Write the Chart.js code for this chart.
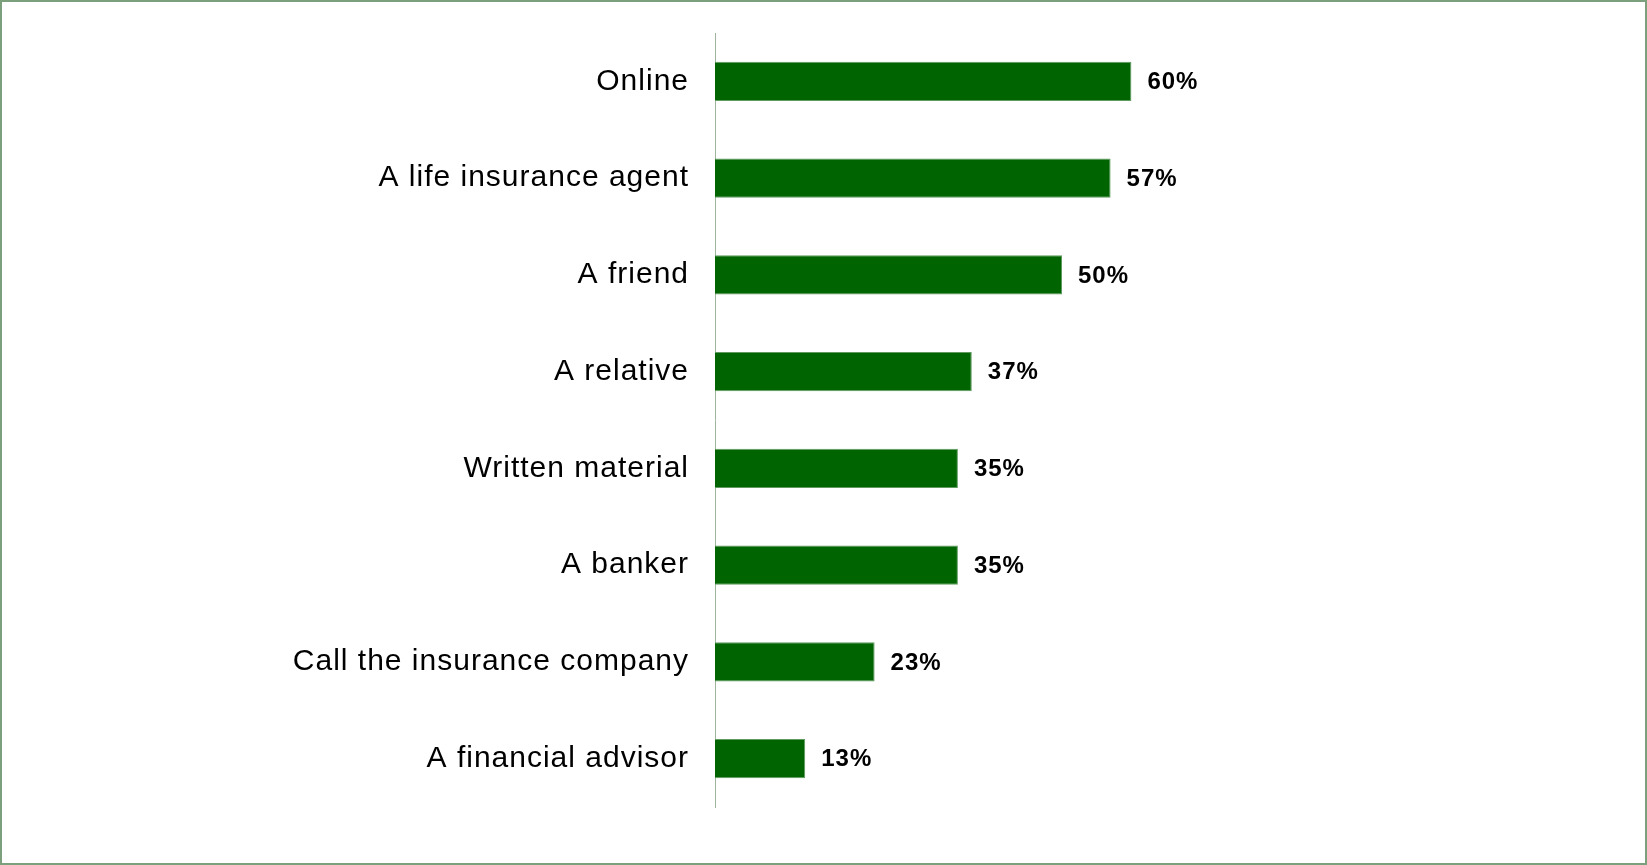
<!DOCTYPE html>
<html>
<head>
<meta charset="utf-8">
<script src="https://cdn.jsdelivr.net/npm/chart.js@4"></script>
<style>
  html, body { margin:0; padding:0; background:#fff; }
  #wrap { position:relative; width:1647px; height:865px; }
  #chart { position:absolute; left:0; top:0; }
  #frame { position:absolute; inset:0; border:2px solid #7ba07b; box-sizing:border-box; pointer-events:none; }
</style>
</head>
<body>
<div id="wrap">
  <canvas id="chart" width="1647" height="865"></canvas>
  <div id="frame"></div>
</div>
<script>
// categories and values
const CATEGORIES = [
  "Online",
  "A life insurance agent",
  "A friend",
  "A relative",
  "Written material",
  "A banker",
  "Call the insurance company",
  "A financial advisor"
];
const VALUES = [60, 57, 50, 37, 35, 35, 23, 13];

const AXIS_X = 715; // left edge of plot area

// the original text is set a little wider than plain Arial
const spacing = {
  id: "spacing",
  beforeUpdate(chart){ chart.ctx.letterSpacing = "1px"; },
  beforeDraw(chart){ chart.ctx.letterSpacing = "1px"; }
};

// simple value labels at the end of each bar
const barLabels = {
  id: "barLabels",
  afterDatasetsDraw(chart){
    const ctx = chart.ctx;
    const meta = chart.getDatasetMeta(0);
    ctx.save();
    ctx.font = "bold 24px 'Liberation Sans', Arial, sans-serif";
    ctx.letterSpacing = "1px";
    ctx.fillStyle = "#000";
    ctx.textBaseline = "middle";
    ctx.textAlign = "left";
    meta.data.forEach((bar, i)=>{
      ctx.fillText(VALUES[i] + "%", bar.x + 16, bar.y + 1);
    });
    ctx.restore();
  }
};

new Chart(document.getElementById("chart"), {
  type: "bar",
  data: {
    labels: CATEGORIES,
    datasets: [{
      data: VALUES,
      backgroundColor: "#006400",
      borderColor: "#5f9a5f",
      borderWidth: 1,
      barPercentage: 0.8,
      categoryPercentage: 0.505
    }]
  },
  options: {
    indexAxis: "y",
    responsive: false,
    animation: false,
    layout: { padding: { left: 0, top: 33, right: 238, bottom: 58 } },
    plugins: { legend: { display: false }, tooltip: { enabled: false } },
    scales: {
      x: {
        display: false,
        min: 0,
        max: 100
      },
      y: {
        afterFit(scale){
          scale.width = AXIS_X;
          scale.paddingTop = 0;
          scale.paddingBottom = 0;
        },
        grid: { display: false, drawTicks: false },
        border: { display: true, color: "#9fb39f", width: 1 },
        ticks: {
          padding: 26,
          color: "#000",
          font: { family: "'Liberation Sans', Arial, sans-serif", size: 30 }
        }
      }
    }
  },
  plugins: [spacing, barLabels]
});
</script>
</body>
</html>
